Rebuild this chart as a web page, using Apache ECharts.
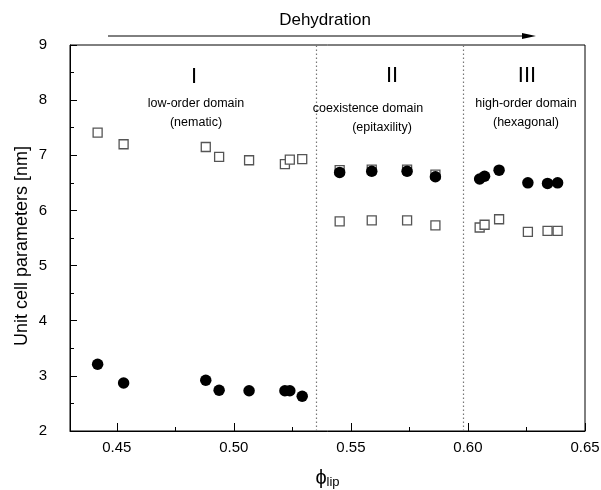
<!DOCTYPE html>
<html>
<head>
<meta charset="utf-8">
<script src="https://cdn.jsdelivr.net/npm/echarts@6/dist/echarts.min.js"></script>
<style>html,body{margin:0;padding:0;background:#fff;}#c{width:601px;height:490px;}</style>
</head>
<body>
<div id="c"></div>
<script>
// ---- data ----
const phiLow = [0.4418, 0.4529, 0.4880, 0.4937, 0.5065, 0.5218, 0.5239, 0.5292];
const sqLow = [7.41, 7.20, 7.15, 6.97, 6.91, 6.84, 6.92, 6.93];
const ciLow = [3.21, 2.87, 2.92, 2.74, 2.73, 2.73, 2.73, 2.63];

const phiCoex = [0.5452, 0.5589, 0.5740, 0.5861];
const sqCoexUpper = [6.73, 6.74, 6.74, 6.65];
const ciCoex = [6.69, 6.71, 6.71, 6.61];
const sqCoexLower = [5.80, 5.82, 5.82, 5.73];

const phiHigh = [0.6050, 0.6071, 0.6133, 0.6256, 0.6340, 0.6383];
const ciHigh = [6.57, 6.62, 6.73, 6.50, 6.49, 6.50];
const sqHigh = [5.69, 5.74, 5.84, 5.61, 5.63, 5.63];

const boundaries = [0.535, 0.598];
const xMajorTicks = [0.45, 0.50, 0.55, 0.60, 0.65];
const xMinorTicks = [0.475, 0.525, 0.575, 0.625];

// ---- build ----
const pairs = (xs, ys) => xs.map((x, i) => [x, ys[i]]);
const squares = [].concat(pairs(phiLow, sqLow), pairs(phiCoex, sqCoexUpper), pairs(phiCoex, sqCoexLower), pairs(phiHigh, sqHigh));
const circles = [].concat(pairs(phiLow, ciLow), pairs(phiCoex, ciCoex), pairs(phiHigh, ciHigh));

const FONT = 'Liberation Sans, Arial, Helvetica, sans-serif';
const chart = echarts.init(document.getElementById('c'), null, {renderer: 'canvas'});

const txt = (x, y, s, size) => ({
  type: 'text', x: x, y: y,
  style: {text: s, fontFamily: FONT, fontSize: size, fill: '#000', align: 'center', verticalAlign: 'middle'}
});

chart.setOption({
  animation: false,
  backgroundColor: '#fff',
  grid: {left: 70, right: 16, top: 45, bottom: 59, show: true, borderColor: '#000', borderWidth: 1, containLabel: false, outerBoundsMode: 'none'},
  xAxis: [{
    type: 'value', min: 0.43, max: 0.65,
    axisLine: {show: true, onZero: false, lineStyle: {color: '#000', width: 1}},
    axisTick: {show: true, inside: true, length: 8, customValues: xMajorTicks, lineStyle: {color: '#000'}},
    axisLabel: {show: true, customValues: xMajorTicks, formatter: v => v.toFixed(2), fontFamily: FONT, fontSize: 15, color: '#000', margin: 9, showMinLabel: true, showMaxLabel: true},
    splitLine: {show: false},
    name: '{a|ϕ}{b|lip}', nameLocation: 'middle', nameGap: 36,
    nameTextStyle: {rich: {a: {fontFamily: FONT, fontSize: 20, color: '#000'}, b: {fontFamily: FONT, fontSize: 13, color: '#000', padding: [9, 0, 0, 0]}}}
  }, {
    type: 'value', min: 0.43, max: 0.65, position: 'bottom',
    axisLine: {show: false},
    axisTick: {show: true, inside: true, length: 4, customValues: xMinorTicks, lineStyle: {color: '#000'}},
    axisLabel: {show: false},
    splitLine: {show: false}
  }],
  yAxis: {
    type: 'value', min: 2, max: 9, interval: 1,
    axisLine: {show: true, onZero: false, lineStyle: {color: '#000', width: 1}},
    axisTick: {show: true, inside: true, length: 7, lineStyle: {color: '#000'}},
    minorTick: {show: true, splitNumber: 2, length: 4, lineStyle: {color: '#000'}},
    axisLabel: {fontFamily: FONT, fontSize: 15, color: '#000', margin: 23},
    splitLine: {show: false}
  },
  graphic: [
    {type: 'line', shape: {x1: 108, y1: 36, x2: 526, y2: 36}, style: {stroke: '#000', lineWidth: 1}},
    {type: 'polygon', shape: {points: [[522, 33], [536, 36], [522, 39]]}, style: {fill: '#000'}},
    txt(325, 20, 'Dehydration', 17),
    {type: 'text', x: 22, y: 246, rotation: Math.PI / 2,
     style: {text: 'Unit cell parameters [nm]', fontFamily: FONT, fontSize: 18, fill: '#000', align: 'center', verticalAlign: 'middle'}},
    txt(194, 77, 'I', 22),
    txt(196, 104, 'low-order domain', 12.5),
    txt(196, 123, '(nematic)', 12.5),
    txt(392, 76, 'II', 22),
    txt(368, 109, 'coexistence domain', 12.5),
    txt(382, 128, '(epitaxility)', 12.5),
    txt(527, 76, 'III', 22),
    txt(526, 104, 'high-order domain', 12.5),
    txt(526, 123, '(hexagonal)', 12.5)
  ],
  series: [{
    type: 'line', data: [], xAxisIndex: 0, silent: true,
    markLine: {
      silent: true, precision: 4, symbol: ['none', 'none'], label: {show: false},
      lineStyle: {color: '#777', type: [1.5, 2.5], width: 1.2},
      data: boundaries.map(b => ({xAxis: b}))
    }
  }, {
    name: 'squares', type: 'scatter', data: squares, symbol: 'rect', symbolSize: 9,
    itemStyle: {color: '#fff', borderColor: '#555', borderWidth: 1.3, opacity: 1}
  }, {
    name: 'circles', type: 'scatter', data: circles, symbol: 'circle', symbolSize: 11.5,
    itemStyle: {color: '#000', opacity: 1}
  }]
});
</script>
</body>
</html>
